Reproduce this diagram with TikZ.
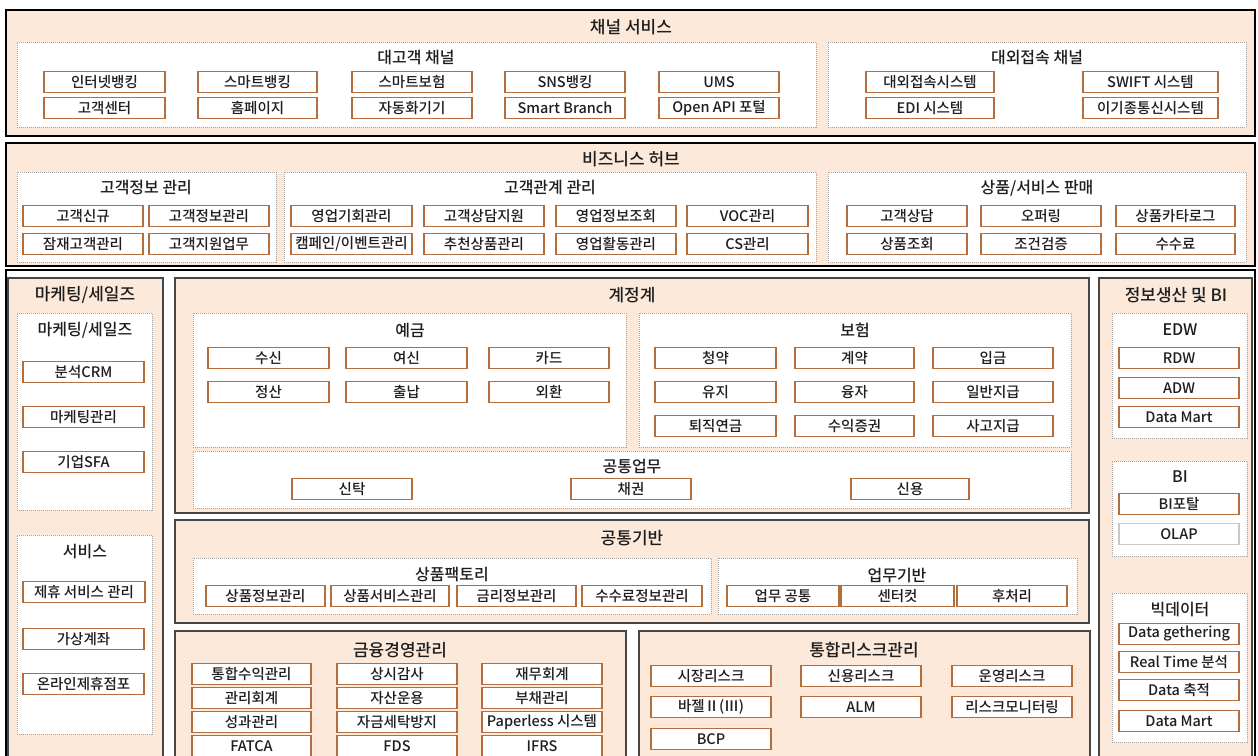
\documentclass[tikz,border=0pt]{standalone}
\usepackage{fontspec}
\setmainfont{Noto Sans CJK KR Medium}
\definecolor{peach}{RGB}{252,233,218}
\definecolor{brn}{RGB}{180,110,60}
\definecolor{dotg}{RGB}{165,165,165}
\definecolor{pnl}{RGB}{70,70,70}
\definecolor{olapg}{RGB}{200,200,200}
\definecolor{txt}{RGB}{30,30,30}
\newcommand\rb[7]{\node[#1,minimum width={(#5-#3)*1pt},minimum height={(#6-#4)*1pt}] (#2) at ({(#3+#5)/2},{(#4+#6)/2}) {#7};}
\newcommand\itm[5]{\node[item,minimum width={(#3-#2)*1pt}] (#1) at ({(#2+#3)/2},#4) {#5};}
\newcommand\itmg[5]{\node[item,draw=olapg,minimum width={(#3-#2)*1pt}] (#1) at ({(#2+#3)/2},#4) {#5};}
\begin{document}
\begin{tikzpicture}[x=1pt,y=-1pt,
  item/.style={draw=brn,line width=1.3pt,fill=white,minimum height=21pt,inner sep=0pt,font=\fontsize{14.5}{16}\selectfont,text=txt},
  grp/.style={draw=dotg,densely dotted,line width=1pt,fill=white,inner sep=0pt},
  panel/.style={draw=pnl,line width=1.4pt,fill=peach,inner sep=0pt},
  frame/.style={draw=black,line width=2.6pt,fill=peach,inner sep=0pt},
  outer/.style={draw=black,line width=2.6pt,inner sep=0pt},
  ptitle/.style={font=\fontsize{17}{19}\selectfont,inner sep=0pt,text=txt},
  gtitle/.style={font=\fontsize{16}{18}\selectfont,inner sep=0pt,text=txt}]
\useasboundingbox (0,0) rectangle (1258,755);
\clip (0,0) rectangle (1258,755);
% ---------- frame 1 ----------
\rb{frame}{f1}{6}{10}{1255}{136}{}
\node[ptitle] (f1t) at (631,27) {채널 서비스};
\rb{grp}{g11}{17}{42}{816}{127}{}
\node[gtitle] (g11t) at (416,58) {대고객 채널};
\itm{a1}{44}{165}{82}{인터넷뱅킹}
\itm{a2}{198}{317}{82}{스마트뱅킹}
\itm{a3}{352}{472}{82}{스마트보험}
\itm{a4}{505}{625}{82}{SNS뱅킹}
\itm{a5}{659}{779}{82}{UMS}
\itm{a6}{44}{165}{108}{고객센터}
\itm{a7}{198}{317}{108}{홈페이지}
\itm{a8}{352}{472}{108}{자동화기기}
\itm{a9}{505}{625}{108}{Smart Branch}
\itm{a10}{659}{779}{108}{Open API 포털}
\rb{grp}{g12}{828}{42}{1246}{127}{}
\node[gtitle] (g12t) at (1037,58) {대외접속 채널};
\itm{b1}{866}{994}{82}{대외접속시스템}
\itm{b2}{1083}{1218}{82}{SWIFT 시스템}
\itm{b3}{866}{994}{108}{EDI 시스템}
\itm{b4}{1083}{1218}{108}{이기종통신시스템}
% ---------- frame 2 ----------
\rb{frame}{f2}{6}{143}{1255}{266}{}
\node[ptitle] (f2t) at (631,159) {비즈니스 허브};
\rb{grp}{g21}{17}{172}{276}{262}{}
\node[gtitle] (g21t) at (146,188) {고객정보 관리};
\itm{c1}{23}{143}{216}{고객신규}
\itm{c2}{149}{269}{216}{고객정보관리}
\itm{c3}{23}{143}{244}{잠재고객관리}
\itm{c4}{149}{269}{244}{고객지원업무}
\rb{grp}{g22}{284}{172}{816}{262}{}
\node[gtitle] (g22t) at (550,188) {고객관계 관리};
\itm{d1}{291}{412}{216}{영업기회관리}
\itm{d2}{424}{544}{216}{고객상담지원}
\itm{d3}{556}{676}{216}{영업정보조회}
\itm{d4}{687}{808}{216}{VOC관리}
\itm{d5}{291}{412}{244}{캠페인/이벤트관리}
\itm{d6}{424}{544}{244}{추천상품관리}
\itm{d7}{556}{676}{244}{영업활동관리}
\itm{d8}{687}{808}{244}{CS관리}
\rb{grp}{g23}{828}{172}{1246}{262}{}
\node[gtitle] (g23t) at (1037,188) {상품/서비스 판매};
\itm{e1}{847}{967}{216}{고객상담}
\itm{e2}{981}{1101}{216}{오퍼링}
\itm{e3}{1116}{1235}{216}{상품카타로그}
\itm{e4}{847}{967}{244}{상품조회}
\itm{e5}{981}{1101}{244}{조건검증}
\itm{e6}{1116}{1235}{244}{수수료}
% ---------- frame 3 ----------
\rb{outer}{f3}{6}{270}{1255}{800}{}
% marketing
\rb{panel}{pm}{8}{278}{163}{800}{}
\node[ptitle] (pmt) at (85,295) {마케팅/세일즈};
\rb{grp}{gm1}{17}{313}{152}{510}{}
\node[gtitle] (gm1t) at (85,330) {마케팅/세일즈};
\itm{m1}{23}{144}{372}{분석CRM}
\itm{m2}{23}{144}{417}{마케팅관리}
\itm{m3}{23}{144}{462}{기업SFA}
\rb{grp}{gm2}{17}{535}{152}{734}{}
\node[gtitle] (gm2t) at (85,552) {서비스};
\itm{s1}{23}{145}{592}{제휴 서비스 관리}
\itm{s2}{23}{144}{639}{가상계좌}
\itm{s3}{23}{144}{684}{온라인제휴점포}
% 계정계
\rb{panel}{pa}{175}{278}{1089}{513}{}
\node[ptitle] (pat) at (632,295) {계정계};
\rb{grp}{ga1}{193}{313}{626}{447}{}
\node[gtitle] (ga1t) at (410,330) {예금};
\itm{h1}{208}{329}{358}{수신}
\itm{h2}{346}{467}{358}{여신}
\itm{h3}{489}{609}{358}{카드}
\itm{h4}{208}{329}{392}{정산}
\itm{h5}{346}{467}{392}{출납}
\itm{h6}{489}{609}{392}{외환}
\rb{grp}{ga2}{639}{313}{1071}{447}{}
\node[gtitle] (ga2t) at (855,330) {보험};
\itm{i1}{655}{776}{358}{청약}
\itm{i2}{795}{914}{358}{계약}
\itm{i3}{933}{1053}{358}{입금}
\itm{i4}{655}{776}{392}{유지}
\itm{i5}{795}{914}{392}{융자}
\itm{i6}{933}{1053}{392}{일반지급}
\itm{i7}{655}{776}{426}{퇴직연금}
\itm{i8}{795}{914}{426}{수익증권}
\itm{i9}{933}{1053}{426}{사고지급}
\rb{grp}{ga3}{193}{451}{1071}{508}{}
\node[gtitle] (ga3t) at (632,467) {공통업무};
\itm{j1}{292}{412}{489}{신탁}
\itm{j2}{571}{691}{489}{채권}
\itm{j3}{851}{969}{489}{신용}
% 공통기반
\rb{panel}{pc}{175}{520}{1089}{623}{}
\node[ptitle] (pct) at (632,538) {공통기반};
\rb{grp}{gc1}{193}{558}{711}{614}{}
\node[gtitle] (gc1t) at (452,575) {상품팩토리};
\itm{k1}{206}{325}{596}{상품정보관리}
\itm{k2}{331}{449}{596}{상품서비스관리}
\itm{k3}{457}{576}{596}{금리정보관리}
\itm{k4}{582}{702}{596}{수수료정보관리}
\rb{grp}{gc2}{718}{558}{1077}{614}{}
\node[gtitle] (gc2t) at (897,575) {업무기반};
\itm{l1}{727}{839}{596}{업무 공통}
\itm{l2}{841}{954}{596}{센터컷}
\itm{l3}{957}{1067}{596}{후처리}
% 금융경영관리
\rb{panel}{pf}{175}{631}{626}{800}{}
\node[ptitle] (pft) at (400,650) {금융경영관리};
\itm{n1}{192}{311}{674}{통합수익관리}
\itm{n2}{337}{457}{674}{상시감사}
\itm{n3}{482}{602}{674}{재무회계}
\itm{n4}{192}{311}{698}{관리회계}
\itm{n5}{337}{457}{698}{자산운용}
\itm{n6}{482}{602}{698}{부채관리}
\itm{n7}{192}{311}{722}{성과관리}
\itm{n8}{337}{457}{722}{자금세탁방지}
\itm{n9}{482}{602}{722}{Paperless 시스템}
\itm{n10}{192}{311}{746}{FATCA}
\itm{n11}{337}{457}{746}{FDS}
\itm{n12}{482}{602}{746}{IFRS}
% 통합리스크관리
\rb{panel}{pr}{639}{631}{1090}{800}{}
\node[ptitle] (prt) at (864,650) {통합리스크관리};
\itm{r1}{651}{771}{676}{시장리스크}
\itm{r2}{801}{921}{676}{신용리스크}
\itm{r3}{952}{1072}{676}{운영리스크}
\itm{r4}{651}{771}{707}{바젤Ⅱ(Ⅲ)}
\itm{r5}{801}{921}{707}{ALM}
\itm{r6}{952}{1072}{707}{리스크모니터링}
\itm{r7}{651}{771}{739}{BCP}
% 정보생산 및 BI
\rb{panel}{pb}{1099}{278}{1252}{800}{}
\node[ptitle] (pbt) at (1176,295) {정보생산 및 BI};
\rb{grp}{gb1}{1112}{313}{1247}{438}{}
\node[gtitle] (gb1t) at (1180,330) {EDW};
\itm{o1}{1119}{1239}{358}{RDW}
\itm{o2}{1119}{1239}{388}{ADW}
\itm{o3}{1119}{1239}{417}{Data Mart}
\rb{grp}{gb2}{1112}{461}{1247}{556}{}
\node[gtitle] (gb2t) at (1180,477) {BI};
\itm{p1}{1119}{1239}{504}{BI포탈}
\itmg{p2}{1119}{1239}{534}{OLAP}
\rb{grp}{gb3}{1112}{593}{1247}{742}{}
\node[gtitle] (gb3t) at (1180,610) {빅데이터};
\itm{q1}{1119}{1239}{634}{Data gethering}
\itm{q2}{1119}{1239}{662}{Real Time 분석}
\itm{q3}{1119}{1239}{690}{Data 축적}
\itm{q4}{1119}{1239}{721}{Data Mart}
\end{tikzpicture}
\end{document}
